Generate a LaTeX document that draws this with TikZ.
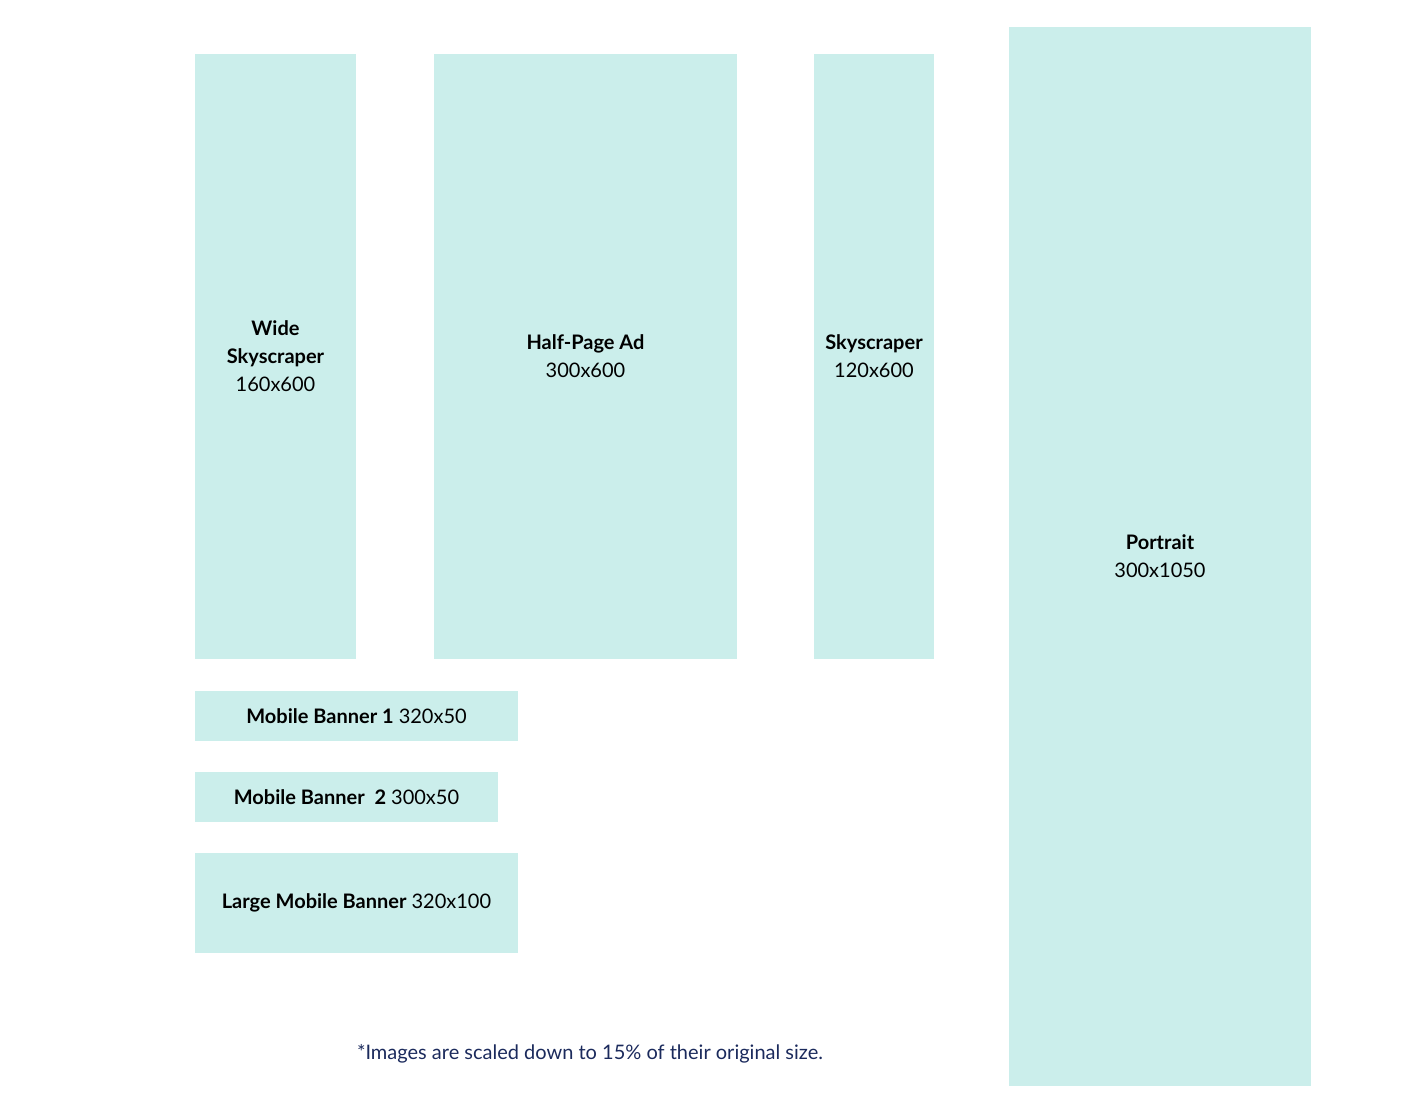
\documentclass[tikz,border=0pt]{standalone}
\usepackage{fontspec}
\setmainfont{Lato}
\definecolor{ad}{HTML}{CBEEEB}
\definecolor{note}{HTML}{1B2A5C}
\begin{document}
\begin{tikzpicture}[x=1pt,y=-1pt,
  box/.style={fill=ad,draw=none},
  lbl/.style={align=center,font=\fontsize{20}{28}\selectfont,inner sep=0}]
\useasboundingbox (0,0) rectangle (1414,1108);
\fill[ad] (195,54) rectangle (356,659) coordinate (w);
\fill[ad] (434,54) rectangle (737,659);
\fill[ad] (814,54) rectangle (934,659);
\fill[ad] (1009,27) rectangle (1311,1086);
\fill[ad] (195,691) rectangle (518,741);
\fill[ad] (195,772) rectangle (498,822);
\fill[ad] (195,853) rectangle (518,953);
\node[lbl] (ws) at (275.5,356) {\textbf{Wide}\\\textbf{Skyscraper}\\160x600};
\node[lbl] (hp) at (585.5,356) {\textbf{Half-Page Ad}\\300x600};
\node[lbl] (sk) at (874,356) {\textbf{Skyscraper}\\120x600};
\node[lbl] (po) at (1160,556) {\textbf{Portrait}\\300x1050};
\node[lbl] (m1) at (356.5,716) {\textbf{Mobile Banner 1} 320x50};
\node[lbl] (m2) at (346.5,797) {\textbf{Mobile Banner\ \ 2} 300x50};
\node[lbl] (lm) at (356.5,903) {\textbf{Large Mobile Banner} 320x100};
\node[lbl,text=note] (fn) at (590,1054) {*Images are scaled down to 15\% of their original size.};
\end{tikzpicture}
\end{document}
